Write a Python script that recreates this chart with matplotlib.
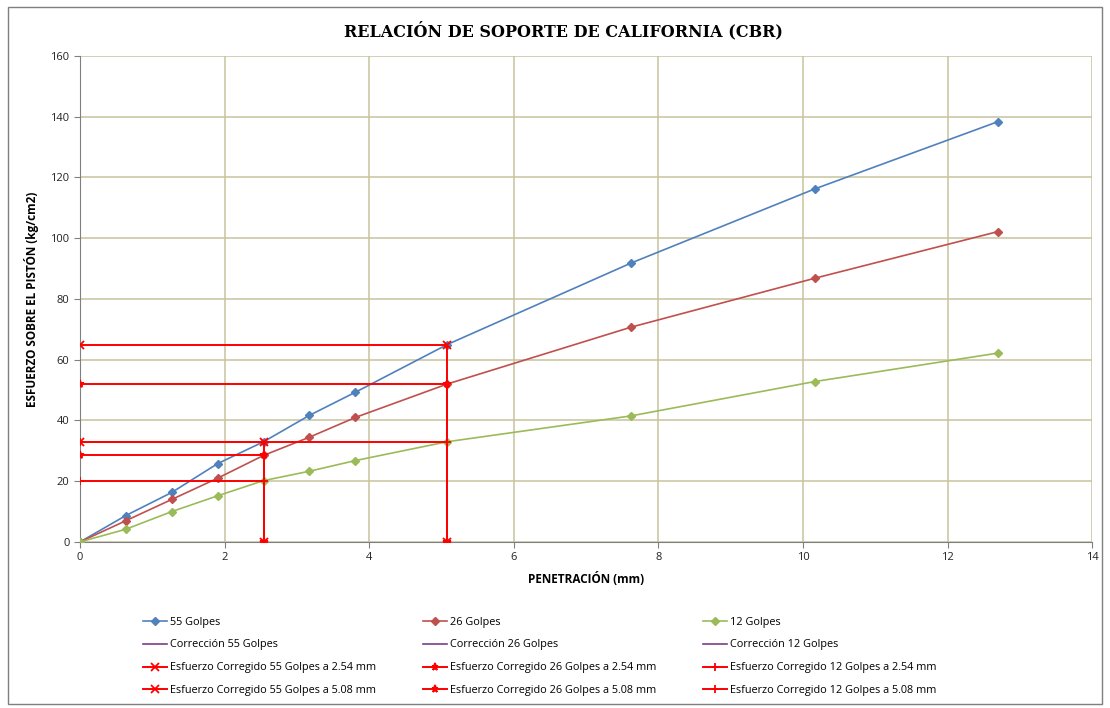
import matplotlib.pyplot as plt
from matplotlib.patches import Rectangle

# Datos de penetración (mm) y esfuerzo (kg/cm2)
penetracion = [0, 0.635, 1.27, 1.905, 2.54, 3.175, 3.81, 5.08, 7.62, 10.16, 12.7]
golpes_55 = [0, 8.7, 16.3, 25.8, 33.0, 41.7, 49.3, 65.0, 91.8, 116.2, 138.4]
golpes_26 = [0, 7.0, 14.0, 21.0, 28.5, 34.5, 41.0, 52.0, 70.7, 86.8, 102.2]
golpes_12 = [0, 4.2, 10.0, 15.2, 20.2, 23.3, 26.8, 33.0, 41.5, 52.8, 62.2]

# Esfuerzos corregidos a 2.54 y 5.08 mm
pen_254 = 2.54
pen_508 = 5.08
corr_254 = [33.0, 28.5, 20.2]   # 55, 26, 12 golpes
corr_508 = [65.0, 52.0, 33.0]

nombres = ['55 Golpes', '26 Golpes', '12 Golpes']
colores = ['#4F81BD', '#C0504D', '#9BBB59']
marcas_corr = ['x', '*', '+']

fig = plt.figure(figsize=(11.1, 7.08), dpi=100)
ax = fig.add_axes([0.072, 0.2345, 0.912, 0.6865])

font_lbl = 'Open Sans'

series = [golpes_55, golpes_26, golpes_12]
h_main, h_corr, h_254, h_508 = [], [], [], []
for s, nom, c in zip(series, nombres, colores):
    l, = ax.plot(penetracion, s, color=c, lw=1.2, marker='D', ms=4.5,
                 markeredgecolor=c, label=nom, zorder=3)
    h_main.append(l)

for nom in nombres:
    l, = ax.plot([], [], color='#7A3D8F', lw=1.2, label='Corrección ' + nom)
    h_corr.append(l)

for nom, y, m in zip(nombres, corr_254, marcas_corr):
    l, = ax.plot([0, pen_254, pen_254], [y, y, 0], color='#FF0000', lw=1.4,
                 marker=m, ms=6, mew=1.3,
                 label='Esfuerzo Corregido ' + nom + ' a 2.54 mm', zorder=4)
    h_254.append(l)

for nom, y, m in zip(nombres, corr_508, marcas_corr):
    l, = ax.plot([0, pen_508, pen_508], [y, y, 0], color='#FF0000', lw=1.4,
                 marker=m, ms=6, mew=1.3,
                 label='Esfuerzo Corregido ' + nom + ' a 5.08 mm', zorder=4)
    h_508.append(l)

ax.set_xlim(0, 14)
ax.set_ylim(0, 160)
ax.set_xticks(range(0, 15, 2))
ax.set_yticks(range(0, 161, 20))
ax.grid(True, color='#C8C29E', lw=1.1)
ax.set_axisbelow(True)
for sp in ['top', 'right']:
    ax.spines[sp].set_visible(False)
for sp in ['left', 'bottom']:
    ax.spines[sp].set_color('#808080')
ax.tick_params(labelsize=8, length=4, color='#808080', labelcolor='#222222')
for t in ax.get_xticklabels() + ax.get_yticklabels():
    t.set_fontfamily(font_lbl)

ax.set_xlabel('PENETRACIÓN (mm)', fontsize=8.5, fontweight='bold',
              family=font_lbl, labelpad=6)
ax.set_ylabel('ESFUERZO SOBRE EL PISTÓN (kg/cm2)', fontsize=8.5,
              fontweight='bold', family=font_lbl, labelpad=8)
fig.text(0.508, 0.956, 'RELACIÓN DE SOPORTE DE CALIFORNIA (CBR)',
         ha='center', va='center', fontsize=11.5, fontweight='bold',
         family='DejaVu Serif')

# leyenda en filas de 3
handles = []
for i in range(3):
    handles += [h_main[i], h_corr[i], h_254[i], h_508[i]]
fig.legend(handles=handles, labels=[h.get_label() for h in handles],
           ncol=3, loc='upper left', bbox_to_anchor=(0.12, 0.143),
           frameon=False, prop={'family': font_lbl, 'size': 7.8},
           handlelength=2.2, columnspacing=4.3, labelspacing=1.1,
           handletextpad=0.3, markerscale=0.85)

fig.patches.append(Rectangle((0.007, 0.005), 0.986, 0.985,
                             transform=fig.transFigure, fill=False,
                             ec='#7F7F7F', lw=1))

fig.savefig('out.png', dpi=100)
